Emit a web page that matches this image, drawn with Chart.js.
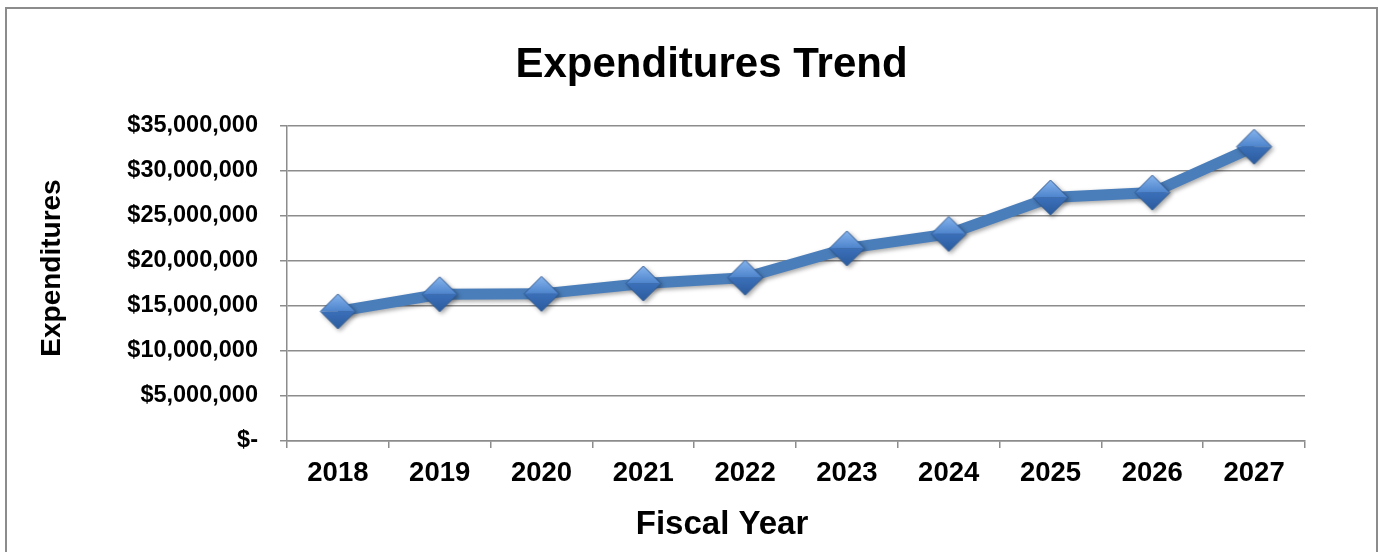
<!DOCTYPE html>
<html>
<head>
<meta charset="utf-8">
<script src="https://cdn.jsdelivr.net/npm/chart.js@4.4.1/dist/chart.umd.min.js"></script>
<style>
body { margin: 0; background: #fff; overflow: hidden; }
#wrap { position: relative; width: 1380px; height: 552px; }
#frame { position: absolute; left: 5px; top: 7px; width: 1373px; height: 600px; border: 2px solid #8c8c8c; box-sizing: border-box; }
canvas { position: absolute; left: 0; top: 0; }
</style>
</head>
<body>
<div id="wrap">
  <div id="frame"></div>
  <canvas id="trend" width="1380" height="552"></canvas>
</div>
<script>
var years = ['2018', '2019', '2020', '2021', '2022', '2023', '2024', '2025', '2026', '2027'];
var expenditures = [14400000, 16300000, 16350000, 17500000, 18150000, 21400000, 23000000, 27050000, 27600000, 32700000];
var yTickLabels = ['$-', '$5,000,000', '$10,000,000', '$15,000,000', '$20,000,000', '$25,000,000', '$30,000,000', '$35,000,000'];
var chartTitle = 'Expenditures Trend';
var xAxisTitle = 'Fiscal Year';
var yAxisTitle = 'Expenditures';

var FONT = "'Liberation Sans', Arial, Helvetica, sans-serif";
var GRID = '#8c8c8c';

// beveled blue diamond used as the marker
function makeDiamond(r) {
    var pad = 2;
    var size = r * 2 + pad * 2;
    var c = document.createElement('canvas');
    c.width = size;
    c.height = size;
    var g = c.getContext('2d');
    var cx = size / 2, cy = size / 2;

    var up = g.createLinearGradient(0, cy - r, 0, cy);
    up.addColorStop(0, '#86b4ee');
    up.addColorStop(1, '#4d84cc');
    g.beginPath();
    g.moveTo(cx, cy - r); g.lineTo(cx + r, cy); g.lineTo(cx - r, cy); g.closePath();
    g.fillStyle = up;
    g.fill();

    var lo = g.createLinearGradient(0, cy, 0, cy + r);
    lo.addColorStop(0, '#3b70b9');
    lo.addColorStop(1, '#2b5b9e');
    g.beginPath();
    g.moveTo(cx - r, cy); g.lineTo(cx + r, cy); g.lineTo(cx, cy + r); g.closePath();
    g.fillStyle = lo;
    g.fill();

    g.beginPath();
    g.moveTo(cx, cy - r); g.lineTo(cx + r, cy); g.lineTo(cx, cy + r); g.lineTo(cx - r, cy); g.closePath();
    g.strokeStyle = '#2f5a92';
    g.lineWidth = 1;
    g.stroke();
    return c;
}

var lineShadow = {
    id: 'lineShadow',
    beforeDatasetDraw: function (chart) {
        var ctx = chart.ctx;
        ctx.save();
        ctx.shadowColor = 'rgba(0,0,0,0.35)';
        ctx.shadowBlur = 4;
        ctx.shadowOffsetX = 2;
        ctx.shadowOffsetY = 2;
    },
    afterDatasetDraw: function (chart) {
        chart.ctx.restore();
    }
};

// axis titles sit a bit off-centre in the original, so place them by hand
var axisTitles = {
    id: 'axisTitles',
    afterDraw: function (chart) {
        var c = chart.ctx;
        var area = chart.chartArea;
        c.save();
        c.fillStyle = '#000';
        c.textAlign = 'center';
        c.textBaseline = 'middle';
        c.font = 'bold 33px ' + FONT;
        c.fillText(xAxisTitle, area.left + 435, area.bottom + 84);
        c.translate(52, area.top + 142);
        c.rotate(-Math.PI / 2);
        c.font = 'bold 28px ' + FONT;
        c.fillText(yAxisTitle, 0, 0);
        c.restore();
    }
};

Chart.defaults.color = '#000';
Chart.defaults.font.family = FONT;

var ctx = document.getElementById('trend').getContext('2d');
var chart = new Chart(ctx, {
    type: 'line',
    data: {
        labels: years,
        datasets: [{
            label: 'Expenditures',
            data: expenditures,
            borderColor: '#4a7ebb',
            borderWidth: 11,
            tension: 0,
            pointStyle: makeDiamond(17.5),
            pointRadius: 17,
            clip: false
        }]
    },
    options: {
        responsive: false,
        animation: false,
        layout: { padding: { left: 118, right: 75, top: 0, bottom: 0 } },
        plugins: {
            legend: { display: false },
            tooltip: { enabled: false },
            title: {
                display: true,
                text: chartTitle,
                color: '#000',
                font: { size: 42, weight: 'bold' },
                padding: { top: 40, bottom: 35.6 }
            }
        },
        scales: {
            x: {
                offset: true,
                grid: { offset: true, drawOnChartArea: false, tickLength: 7, color: GRID, lineWidth: 1.5 },
                border: { display: true, color: GRID, width: 1.5 },
                ticks: { font: { size: 27.5, weight: 'bold' }, padding: 9, maxRotation: 0 },
                afterFit: function (scale) { scale.height = 111; }
            },
            y: {
                min: 0,
                max: 35000000,
                grid: { color: GRID, lineWidth: 1.5, tickLength: 7 },
                border: { display: true, color: GRID, width: 1.5 },
                ticks: {
                    stepSize: 5000000,
                    font: { size: 23.5, weight: 'bold' },
                    padding: 22,
                    callback: function (value, index) { return yTickLabels[index]; }
                },
                afterFit: function (scale) { scale.width = 169; }
            }
        }
    },
    plugins: [lineShadow, axisTitles]
});
</script>
</body>
</html>
